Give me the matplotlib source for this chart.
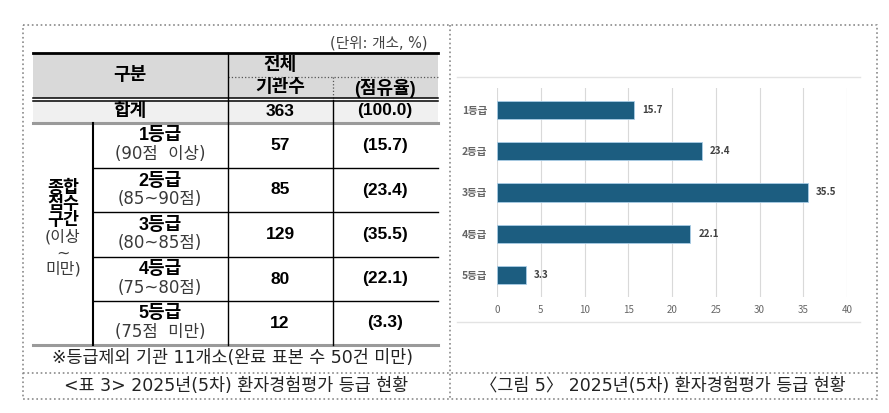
import numpy as np
import matplotlib
matplotlib.use('Agg')
import matplotlib.pyplot as plt

plt.rcParams['font.family'] = ['Noto Sans CJK KR', 'DejaVu Sans']

# 데이터
grades = ['1등급', '2등급', '3등급', '4등급', '5등급']
ranges = ['(90점  이상)', '(85~90점)', '(80~85점)', '(75~80점)', '(75점  미만)']
counts = [57, 85, 129, 80, 12]
shares = [15.7, 23.4, 35.5, 22.1, 3.3]
total_count = 363
total_share = 100.0
xticks = [0, 5, 10, 15, 20, 25, 30, 35, 40]

W, H = 889, 413
fig = plt.figure(figsize=(W / 100, H / 100), dpi=100)

# 글꼴 묶음: 숫자·기호는 라틴 글꼴, 한글은 Noto CJK
wide = ['DejaVu Sans', 'Noto Sans CJK KR']
arial = ['Liberation Sans', 'Noto Sans CJK KR']

# 배경 축 (픽셀 좌표)
bg = fig.add_axes([0, 0, 1, 1])
bg.set_xlim(0, W)
bg.set_ylim(H, 0)
bg.axis('off')

frame = dict(color='#8a8a8a', linestyle=':', lw=1.2)
bg.plot([22.5, 877, 877, 22.5, 22.5], [25, 25, 399, 399, 25], **frame)
bg.plot([450, 450], [25, 399], **frame)
bg.plot([22.5, 877], [373, 373], **frame)

# 표
L, R = 33, 438
c1, c2, c3 = 93, 228, 333
rows = [123, 168, 212, 257, 301, 345]

bg.fill_between([L, R], 53, 98, color='#d9d9d9', lw=0)
bg.fill_between([L, R], 100, 123, color='#f0f0f0', lw=0)

bg.plot([L, R], [53, 53], color='black', lw=2)
bg.plot([c2, R], [77, 77], color='#555555', lw=0.9, linestyle=':')
bg.plot([c3, c3], [77, 99], color='#555555', lw=0.9, linestyle=':')
bg.plot([L, R], [97.5, 97.5], color='black', lw=1.1)
bg.plot([L, R], [100.5, 100.5], color='black', lw=1.1)
bg.plot([L, R], [123, 123], color='#9a9a9a', lw=2.2)
bg.plot([L, R], [345, 345], color='#9a9a9a', lw=2.2)
bg.plot([c2, c2], [53, 345], color='black', lw=1)
bg.plot([c3, c3], [100, 345], color='black', lw=1)
bg.plot([c1, c1], [123, 345], color='black', lw=1.5)
for y in rows[1:-1]:
    bg.plot([c1, R], [y, y], color='black', lw=1)

bold = dict(ha='center', va='center', fontsize=13, fontweight='bold',
            color='black', family=arial)
num = dict(bold, fontsize=12.5)
norm = dict(ha='center', va='center', fontsize=12, color='#3a3a3a', family=wide)

bg.text(427, 43, '(단위: 개소, %)', ha='right', va='center', fontsize=10.5,
        color='#444444', family=wide)
bg.text(130, 76, '구분', **bold)
bg.text(280, 65, '전체', **bold)
bg.text(280, 88, '기관수', **bold)
bg.text(385, 88, '(점유율)', **bold)
bg.text(130, 111, '합계', **bold)
bg.text(280, 111, f'{total_count}', **num)
bg.text(385, 111, f'({total_share:.1f})', **num)

for i, g in enumerate(grades):
    top, bot = rows[i], rows[i + 1]
    mid = (top + bot) / 2
    bg.text(160, top + 13, g, **bold)
    bg.text(160, top + 31, ranges[i], **norm)
    bg.text(280, mid, f'{counts[i]}', **num)
    bg.text(385, mid, f'({shares[i]})', **num)

bg.text(63, 204, '종합\n점수\n구간', ha='center', va='center', fontsize=12.5,
        fontweight='bold', color='black', linespacing=0.88)
bg.text(63, 253, '(이상\n~\n미만)', ha='center', va='center', fontsize=11.5,
        color='#3a3a3a', linespacing=1.05, family=wide)

bg.text(233, 358, '※등급제외 기관 11개소(완료 표본 수 50건 미만)',
        ha='center', va='center', fontsize=12.5, color='#222222', family=wide)
bg.text(236, 386, '<표 3> 2025년(5차) 환자경험평가 등급 현황',
        ha='center', va='center', fontsize=12.5, color='#222222', family=wide)
bg.text(663, 386, '〈그림 5〉 2025년(5차) 환자경험평가 등급 현황',
        ha='center', va='center', fontsize=12.5, color='#222222', family=wide)

# 차트 영역 경계선
bg.plot([457, 860], [77, 77], color='#e3e3e3', lw=1)
bg.plot([457, 860], [322, 322], color='#e3e3e3', lw=1)

# 막대 차트
x0, x1, y0, y1 = 497, 847, 88, 297
ax = fig.add_axes([x0 / W, 1 - y1 / H, (x1 - x0) / W, (y1 - y0) / H])
ax.patch.set_alpha(0)
ypos = np.arange(len(grades))
ax.barh(ypos, shares, height=0.44, color='#1c5d80', edgecolor='#a9cde6', lw=0.6, zorder=3)
for y, v in zip(ypos, shares):
    ax.annotate(f'{v}', (v, y), xytext=(6, 0), textcoords='offset points',
                ha='left', va='center', fontsize=7, fontweight='bold', color='#404040')
ax.set_xlim(0, 40)
ax.set_ylim(len(grades) - 0.5 + 0.03, -0.53)
ax.set_xticks(xticks)
ax.set_yticks(ypos)
ax.set_yticklabels(grades, fontsize=7.5, fontweight='bold')
ax.grid(axis='x', color='#d9d9d9', lw=0.8, zorder=0)
for s in ax.spines.values():
    s.set_visible(False)
ax.tick_params(axis='both', length=0, labelsize=7, colors='#666666')
ax.tick_params(axis='y', pad=7, labelsize=7.5)
ax.tick_params(axis='x', pad=6)

fig.savefig('out.png', dpi=100)
